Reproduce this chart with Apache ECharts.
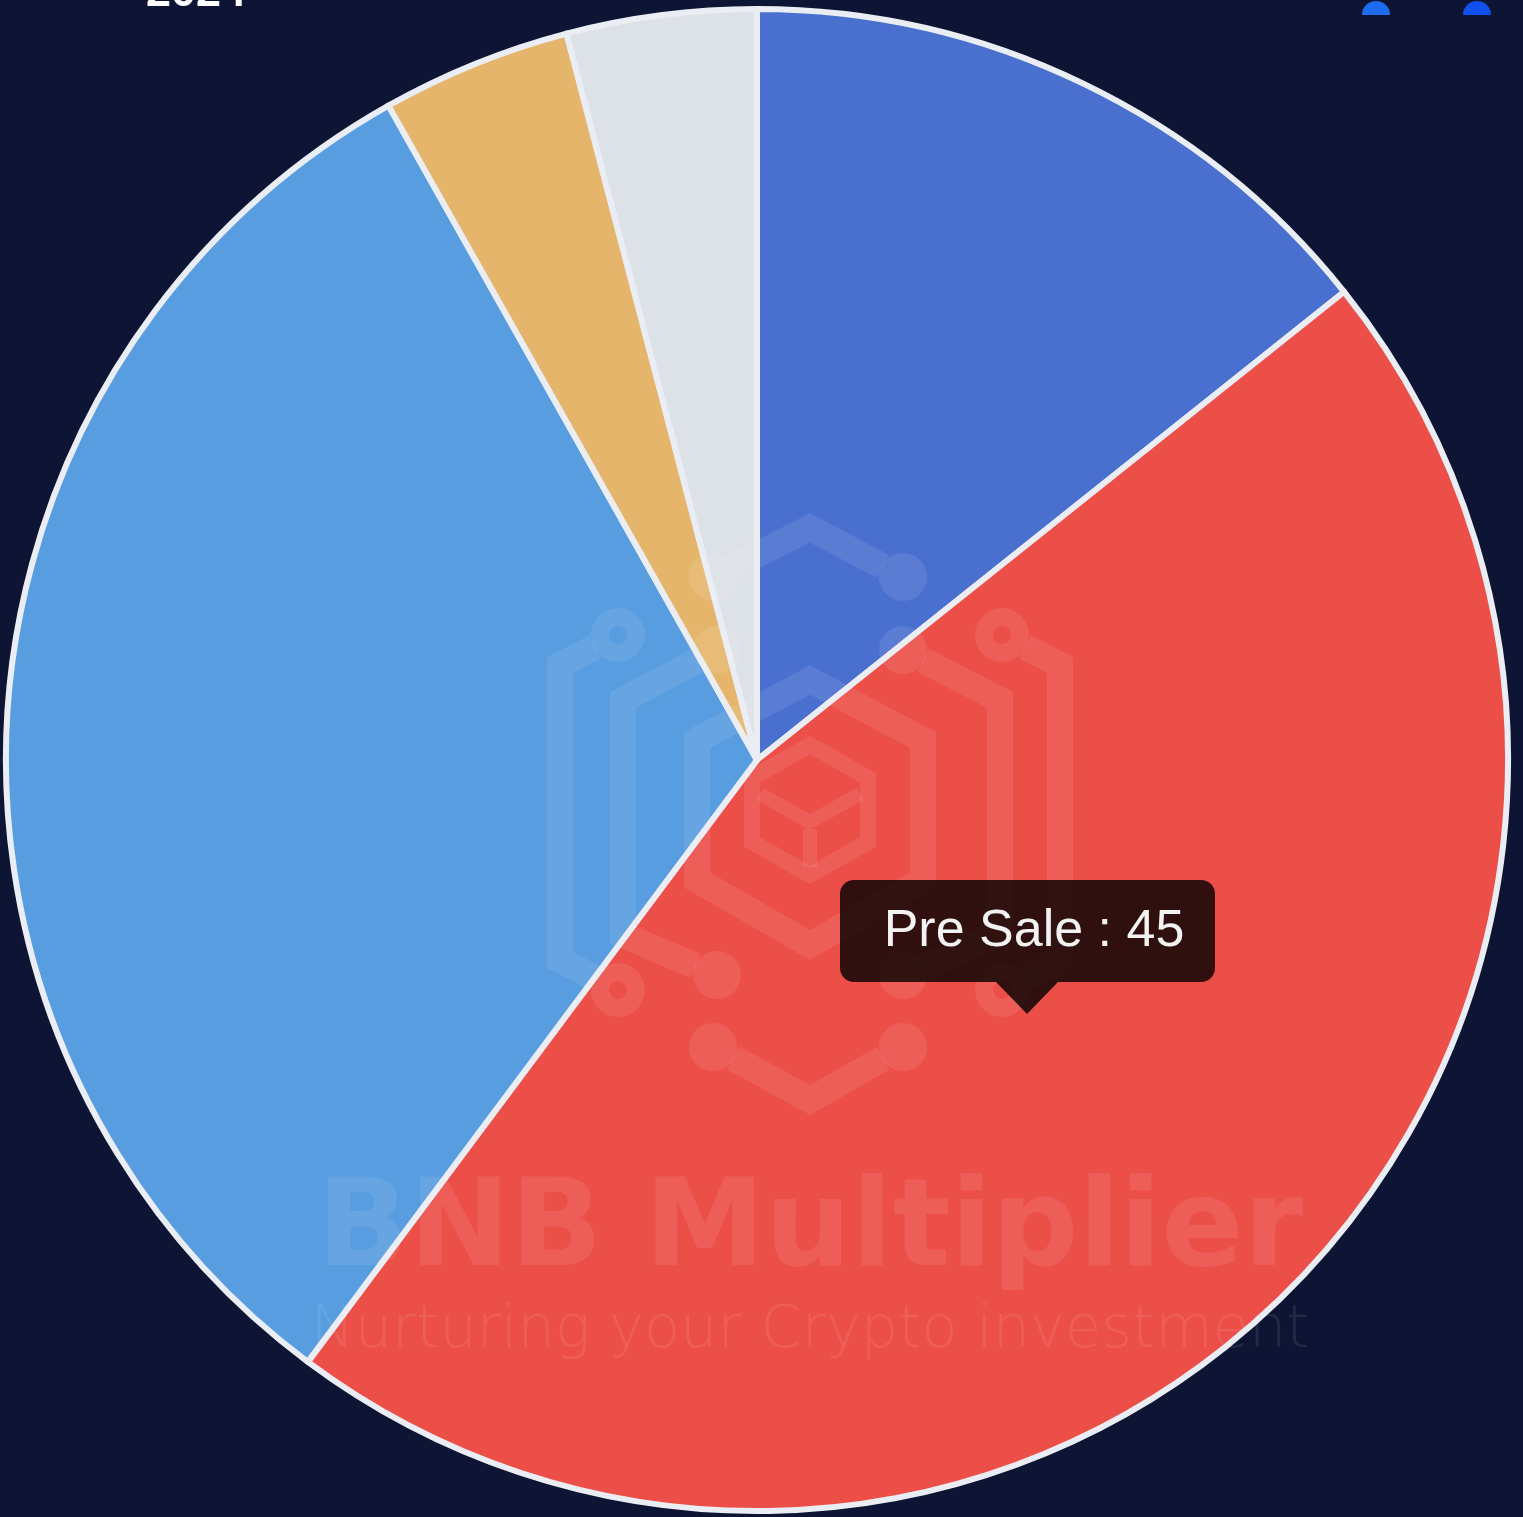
<!DOCTYPE html>
<html>
<head>
<meta charset="utf-8">
<title>Token allocation</title>
<script src="https://cdn.jsdelivr.net/npm/echarts@6/dist/echarts.min.js"></script>
<style>
  html, body { margin: 0; padding: 0; background: #0e1433; }
  #chart { width: 1523px; height: 1517px; }
</style>
</head>
<body>
<div id="chart"></div>
<script>
// 数据
const categories = ['Development', 'Pre Sale', 'Liquidity', 'Marketing', 'Team']
const values = [14, 45, 31, 4, 4]
const sliceColors = ['#4a70cf', '#ec4f48', '#579de0', '#e5b56b', '#dde1e8']
const yearLabel = '2024'
const brandName = 'BNB Multiplier'
const brandSlogan = 'Nurturing your Crypto investment'
const tipIndex = 1 // 当前高亮的扇区 (Pre Sale)

const chartInstance = echarts.init(document.getElementById('chart'))

// 水印 logo
const wmColor = 'rgba(255,255,255,0.09)'
// 线段两端缩短, 避免和圆点重叠后颜色变深
const trim = (points, d) => {
  const pts = points.map((p) => p.slice())
  const cut = (a, b) => {
    const dx = b[0] - a[0]
    const dy = b[1] - a[1]
    const len = Math.sqrt(dx * dx + dy * dy)
    a[0] += (dx / len) * d
    a[1] += (dy / len) * d
  }
  cut(pts[0], pts[1])
  cut(pts[pts.length - 1], pts[pts.length - 2])
  return pts
}
const line = (points, width, d) => ({
  type: 'polyline',
  z: 10,
  shape: { points: d ? trim(points, d) : points },
  style: { stroke: wmColor, fill: null, lineWidth: width || 26, lineJoin: 'miter' },
  silent: true
})
const hex = (points, width) => ({
  type: 'polygon',
  z: 10,
  shape: { points: points },
  style: { stroke: wmColor, fill: null, lineWidth: width || 26, lineJoin: 'miter' },
  silent: true
})
const dot = (x, y) => ({
  type: 'circle',
  z: 10,
  shape: { cx: x, cy: y, r: 24 },
  style: { fill: wmColor },
  silent: true
})
const ring = (x, y) => ({
  type: 'ring',
  z: 10,
  shape: { cx: x, cy: y, r: 27, r0: 9 },
  style: { fill: wmColor },
  silent: true
})

const logo = [
  line([[713, 577], [810, 528], [903, 577]], 26, 23),
  dot(713, 577), dot(903, 577),
  line([[713, 1047], [810, 1100], [903, 1047]], 26, 23),
  dot(713, 1047), dot(903, 1047),
  line([[618, 635], [560, 665], [560, 960], [618, 990]], 26, 26),
  ring(618, 635), ring(618, 990),
  line([[1002, 635], [1060, 665], [1060, 960], [1002, 990]], 26, 26),
  ring(1002, 635), ring(1002, 990),
  line([[717, 650], [623, 700], [623, 935], [717, 975]], 26, 23),
  dot(717, 650), dot(717, 975),
  line([[903, 650], [1000, 700], [1000, 935], [903, 975]], 26, 23),
  dot(903, 650), dot(903, 975),
  hex([[810, 680], [923, 740], [923, 880], [810, 945], [697, 880], [697, 740]]),
  hex([[810, 745], [868, 778], [868, 842], [810, 875], [752, 842], [752, 778]], 16),
  line([[760, 794], [810, 822], [860, 794]], 14),
  line([[810, 829], [810, 867]], 14)
]

// 提示框 (固定显示在 Pre Sale 上)
const tipBox = [
  {
    type: 'rect',
    z: 20,
    shape: { x: 840, y: 880, width: 375, height: 102, r: 14 },
    style: { fill: 'rgba(0,0,0,0.8)' },
    silent: true
  },
  {
    type: 'polygon',
    z: 20,
    shape: { points: [[996, 982], [1058, 982], [1027, 1014]] },
    style: { fill: 'rgba(0,0,0,0.8)' },
    silent: true
  },
  {
    type: 'text',
    z: 21,
    x: 1034, y: 932,
    style: {
      text: categories[tipIndex] + ' : ' + values[tipIndex],
      fill: '#f2f2f2', align: 'center', verticalAlign: 'middle',
      font: '52px "Liberation Sans", Arial, sans-serif'
    },
    silent: true
  }
]

const option = {
  backgroundColor: '#0e1433',
  animation: false,
  tooltip: { show: false },
  legend: { show: false },
  series: [
    {
      type: 'pie',
      center: [757, 760],
      radius: 751,
      startAngle: 90,
      clockwise: true,
      label: { show: false },
      labelLine: { show: false },
      emphasis: { disabled: true },
      itemStyle: { borderColor: '#eaeef4', borderWidth: 6 },
      data: categories.map((name, i) => {
        return { name: name, value: values[i], itemStyle: { color: sliceColors[i] } }
      })
    }
  ],
  graphic: [
    // 顶部被裁切的年份和圆点
    {
      type: 'text',
      x: 146, y: -29,
      style: { text: yearLabel, fill: '#ffffff', font: 'bold 45px "Liberation Sans", Arial, sans-serif' },
      silent: true
    },
    { type: 'sector', shape: { cx: 1376, cy: 15, r: 14, startAngle: Math.PI, endAngle: Math.PI * 2 }, style: { fill: '#1d6cf0' }, silent: true },
    { type: 'sector', shape: { cx: 1477, cy: 15, r: 14, startAngle: Math.PI, endAngle: Math.PI * 2 }, style: { fill: '#1150ee' }, silent: true },
    // 水印文字
    {
      type: 'text',
      z: 10,
      x: 810, y: 1173,
      style: {
        text: brandName, fill: wmColor, align: 'center', verticalAlign: 'top',
        font: 'bold 121px "DejaVu Sans", sans-serif'
      },
      silent: true
    },
    {
      type: 'text',
      z: 10,
      x: 810, y: 1302,
      style: {
        text: brandSlogan, fill: wmColor, align: 'center', verticalAlign: 'top',
        font: '300 59px "DejaVu Sans", sans-serif'
      },
      silent: true
    }
  ].concat(logo, tipBox)
}
chartInstance.setOption(option)
</script>
</body>
</html>
